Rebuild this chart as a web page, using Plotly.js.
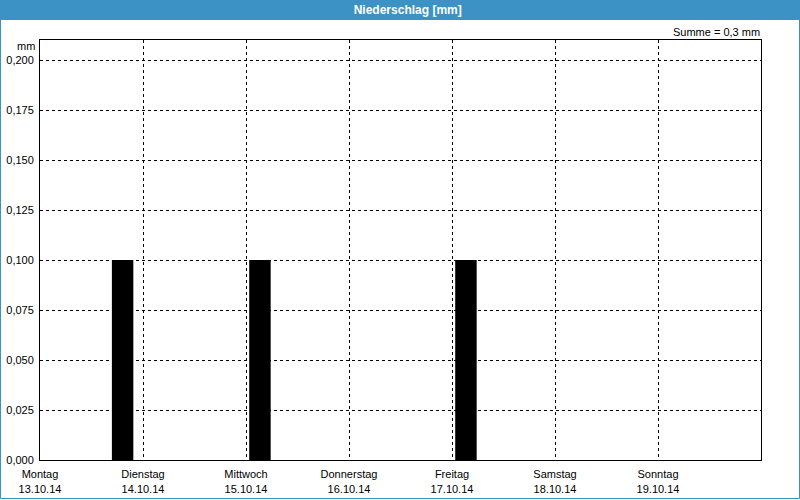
<!DOCTYPE html>
<html>
<head>
<meta charset="utf-8">
<script src="https://cdn.plot.ly/plotly-3.0.1.min.js"></script>
<style>
html,body{margin:0;padding:0;background:#fff;}
#chart{width:800px;height:500px;}
</style>
</head>
<body>
<div id="chart"></div>
<script>
// Data
const times = ['2014-10-13 19:15', '2014-10-15 03:15', '2014-10-17 03:15'];
const values = [0.1, 0.1, 0.1];
const dayTicks = ['2014-10-13', '2014-10-14', '2014-10-15', '2014-10-16', '2014-10-17', '2014-10-18', '2014-10-19'];
const dayNames = ['Montag', 'Dienstag', 'Mittwoch', 'Donnerstag', 'Freitag', 'Samstag', 'Sonntag'];
const dayDates = ['13.10.14', '14.10.14', '15.10.14', '16.10.14', '17.10.14', '18.10.14', '19.10.14'];
const yTicks = [0, 0.025, 0.05, 0.075, 0.1, 0.125, 0.15, 0.175, 0.2];
const sumText = 'Summe = 0,3 mm';
const titleText = 'Niederschlag [mm]';

const W = 800, H = 500, L = 40, R = 39, T = 40, B = 40;
const pw = W - L - R, ph = H - T - B;
const px = v => v / pw, py = v => v / ph;
const blue = '#3c92c4';
const font = '"Liberation Sans", Arial, sans-serif';

const trace = {
  type: 'bar',
  x: times,
  y: values,
  width: times.map(() => 5 * 3600 * 1000),
  marker: {color: '#000000', line: {width: 0}},
  hoverinfo: 'skip'
};

const layout = {
  width: W, height: H,
  margin: {l: L, r: R, t: T, b: B, pad: 0},
  paper_bgcolor: '#ffffff',
  plot_bgcolor: '#ffffff',
  font: {family: font, size: 11, color: '#000'},
  separators: ',.',
  showlegend: false,
  title: {
    text: '<b>' + titleText + '</b>',
    font: {family: font, size: 12, color: '#ffffff'},
    x: 0.51, xanchor: 'center', xref: 'paper',
    y: 1 - 10 / H, yanchor: 'middle', yref: 'container'
  },
  xaxis: {
    type: 'date',
    range: ['2014-10-13', '2014-10-20'],
    tickmode: 'array',
    tickvals: dayTicks,
    ticktext: dayNames.map((n, i) => n + '<br>' + dayDates[i]),
    showgrid: true,
    gridcolor: '#000',
    gridwidth: 1,
    griddash: '3px,3px',
    showline: true, linecolor: '#000', linewidth: 1, mirror: true,
    ticks: '', ticklabelstandoff: 4,
    tickfont: {family: font, size: 11, color: '#000'},
    zeroline: false, fixedrange: true
  },
  yaxis: {
    range: [0, 0.21],
    tickmode: 'array',
    tickvals: yTicks,
    tickformat: '.3f',
    showgrid: true,
    gridcolor: '#000',
    gridwidth: 1,
    griddash: '3px,3px',
    showline: true, linecolor: '#000', linewidth: 1, mirror: true,
    ticks: '', ticklabelstandoff: 3,
    tickfont: {family: font, size: 11, color: '#000'},
    zeroline: false, fixedrange: true
  },
  shapes: [
    {type: 'rect', xref: 'paper', yref: 'paper',
     x0: px(-L), x1: 1 + px(R), y0: 1 + py(T - 20), y1: 1 + py(T),
     fillcolor: blue, line: {width: 0}, layer: 'below'},
    {type: 'rect', xref: 'paper', yref: 'paper',
     x0: px(-L + 0.5), x1: 1 + px(R - 0.5), y0: py(-B + 1.5), y1: 1 + py(T - 0.5),
     fillcolor: 'rgba(0,0,0,0)', line: {color: blue, width: 1}, layer: 'above'}
  ],
  annotations: [
    {text: sumText, xref: 'paper', yref: 'paper', x: 1 + px(1), y: 1 + py(8),
     xanchor: 'right', yanchor: 'middle', showarrow: false,
     font: {family: font, size: 11, color: '#000'}},
    {text: 'mm', xref: 'paper', yref: 'paper', x: px(-3), y: 1 - py(6),
     xanchor: 'right', yanchor: 'middle', showarrow: false,
     font: {family: font, size: 11, color: '#000'}}
  ]
};

Plotly.newPlot('chart', [trace], layout, {staticPlot: true, displayModeBar: false});
</script>
</body>
</html>
